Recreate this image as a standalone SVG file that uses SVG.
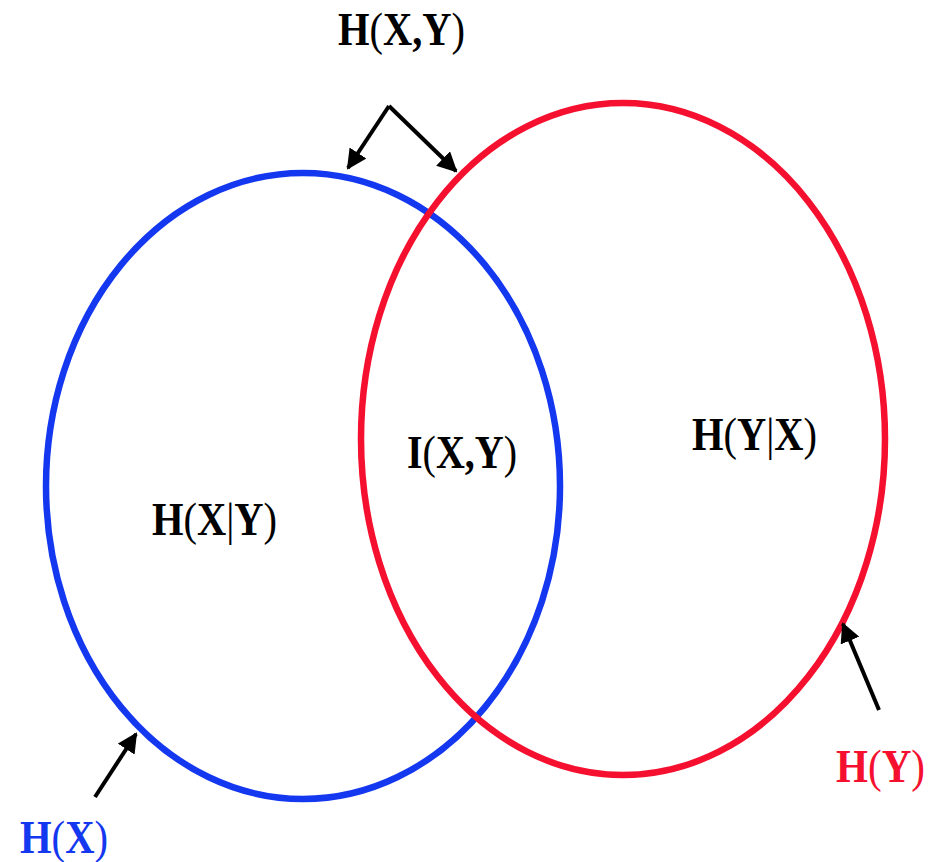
<svg xmlns="http://www.w3.org/2000/svg" width="937" height="862" viewBox="0 0 937 862">
<defs>
<marker id="ah" viewBox="0 0 10 10" refX="9" refY="5" markerWidth="5" markerHeight="5" orient="auto" markerUnits="strokeWidth">
<path d="M0,0 L10,5 L0,10 z" fill="#000"/>
</marker>
<style>
.lbl{font-family:"Liberation Serif","Times New Roman",serif;font-weight:bold;font-size:47px;fill:#000}
.p{font-weight:normal}
.arr{fill:none;stroke:#000;stroke-width:4;marker-end:url(#ah)}
</style>
</defs>
<rect width="937" height="862" fill="#fff"/>
<g id="hx-circle">
<ellipse cx="303" cy="486" rx="257" ry="313" fill="none" stroke="#1437f0" stroke-width="6.5"/>
</g>
<g id="hy-circle">
<ellipse cx="623" cy="439" rx="262" ry="336" fill="none" stroke="#f5102f" stroke-width="6.5"/>
</g>
<g id="connectors">
<path class="arr" d="M389,106 L348,168"/>
<path class="arr" d="M389,106 L456,171"/>
<path class="arr" d="M95,797 L136,734"/>
<path class="arr" d="M879,710 L843,624"/>
</g>
<g id="hxy-label"><text class="lbl" x="338" y="45" textLength="127" lengthAdjust="spacingAndGlyphs">H<tspan class="p">(</tspan>X,Y<tspan class="p">)</tspan></text></g>
<g id="hx-given-y"><text class="lbl" x="152" y="535" textLength="125" lengthAdjust="spacingAndGlyphs">H<tspan class="p">(</tspan>X<tspan class="p">|</tspan>Y<tspan class="p">)</tspan></text></g>
<g id="ixy"><text class="lbl" x="407" y="468" textLength="110" lengthAdjust="spacingAndGlyphs">I<tspan class="p">(</tspan>X,Y<tspan class="p">)</tspan></text></g>
<g id="hy-given-x"><text class="lbl" x="692" y="450" textLength="125" lengthAdjust="spacingAndGlyphs">H<tspan class="p">(</tspan>Y<tspan class="p">|</tspan>X<tspan class="p">)</tspan></text></g>
<g id="hx-label"><text class="lbl" x="20" y="853" textLength="88" lengthAdjust="spacingAndGlyphs" style="fill:#1437f0">H<tspan class="p">(</tspan>X<tspan class="p">)</tspan></text></g>
<g id="hy-label"><text class="lbl" x="836" y="782" textLength="89" lengthAdjust="spacingAndGlyphs" style="fill:#f5102f">H<tspan class="p">(</tspan>Y<tspan class="p">)</tspan></text></g>
</svg>
